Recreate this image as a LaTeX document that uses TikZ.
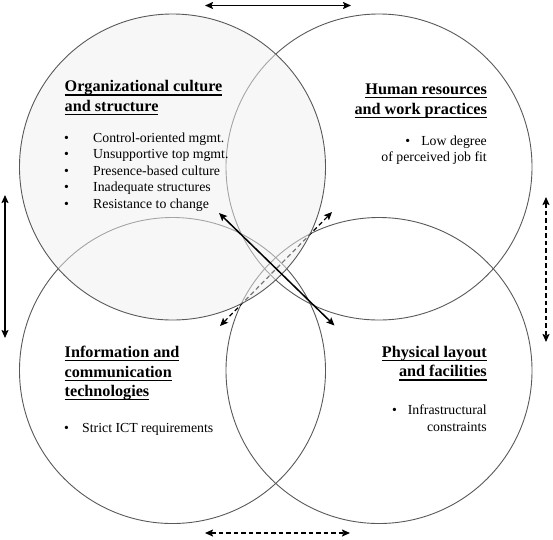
\documentclass[tikz,border=0pt]{standalone}
\usepackage{fontspec}
\setmainfont{Liberation Serif}
\usetikzlibrary{arrows.meta}
\newsavebox\ulbox
\newcommand{\ulin}[1]{\sbox\ulbox{#1}\rlap{\usebox\ulbox}\rule[-3.6pt]{\wd\ulbox}{1.2pt}}

\begin{document}
\begin{tikzpicture}[x=1pt, y=-1pt,
  ring/.style={circle, draw=black!65, line width=0.9pt, minimum size=306pt, inner sep=0pt},
  head/.style={inner sep=0pt, font=\fontsize{16.2}{19.5}\selectfont\bfseries},
  items/.style={inner sep=0pt, font=\fontsize{13.8}{16.5}\selectfont},
  link/.style={<->, >={Stealth[length=8pt, width=7pt, inset=1.5pt]}, line width=1.5pt},
  maybe/.style={link, dash pattern=on 4.5pt off 3pt}]
  \useasboundingbox (0, 0) rectangle (553, 539);

  % the four fields
  \node[ring] (hr) at (379, 167) {};
  \node[ring] (ict) at (172.5, 370.5) {};
  \node[ring] (phys) at (379, 370.5) {};

  \coordinate (nw) at (219, 213);
  \coordinate (se) at (334.5, 325.5);
  \coordinate (sw) at (220, 326);
  \coordinate (ne) at (332, 212);
  \draw[maybe, line width=1.2pt] (sw) -- (ne);

  \node[ring, fill=black!6, fill opacity=0.5] (org) at (172.5, 167) {};
  \draw[link] (nw) -- (se);

  % arrows round the outside
  \coordinate (topl) at (205, 5.5);
  \coordinate (topr) at (351, 5.5);
  \coordinate (botl) at (205, 533);
  \coordinate (botr) at (350, 533);
  \coordinate (leftt) at (5, 195);
  \coordinate (leftb) at (5, 338);
  \coordinate (rightt) at (546, 197);
  \coordinate (rightb) at (546, 342);
  \draw[link] (topl) -- (topr);
  \draw[maybe] (botl) -- (botr);
  \draw[link] (leftt) -- (leftb);
  \draw[maybe] (rightt) -- (rightb);

  % titles and barriers
  \node[head, anchor=north west, align=left] (orgtitle) at (64.5, 80.5)
    {\ulin{Organizational culture}\\\ulin{and structure}};
  \node[items, anchor=north west, align=left] (orglist) at (64, 132.6)
    {\makebox[29pt][l]{\textbullet}Control-oriented mgmt.\\
     \makebox[29pt][l]{\textbullet}Unsupportive top mgmt.\\
     \makebox[29pt][l]{\textbullet}Presence-based culture\\
     \makebox[29pt][l]{\textbullet}Inadequate structures\\
     \makebox[29pt][l]{\textbullet}Resistance to change};

  \node[head, anchor=north east, align=right] (hrtitle) at (487, 84)
    {\ulin{Human resources}\\\ulin{and work practices}};
  \node[items, anchor=north east, align=right] (hrlist) at (487, 135.6)
    {\textbullet\hspace{11pt}Low degree\\of perceived job fit};

  \node[head, anchor=north west, align=left] (icttitle) at (64.5, 346)
    {\ulin{Information and}\\\ulin{communication}\\\ulin{technologies}};
  \node[items, anchor=north west, align=left] (ictlist) at (64, 423.6)
    {\makebox[18pt][l]{\textbullet}Strict ICT requirements};

  \node[head, anchor=north east, align=right] (phystitle) at (487, 346)
    {\ulin{Physical layout}\\\ulin{and facilities}};
  \node[items, anchor=north east, align=right] (physlist) at (487, 404.6)
    {\textbullet\hspace{11pt}Infrastructural\\constraints};
\end{tikzpicture}
\end{document}
